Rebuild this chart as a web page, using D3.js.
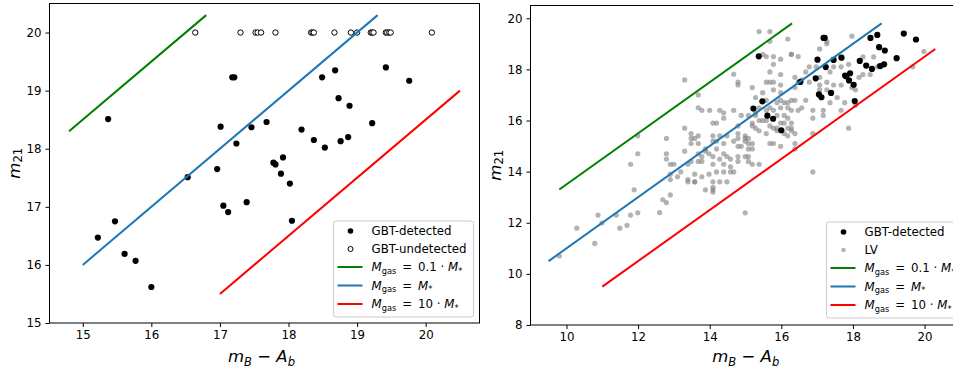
<!DOCTYPE html>
<html>
<head>
<meta charset="utf-8">
<script src="https://cdn.jsdelivr.net/npm/d3@7"></script>
<style>
  body { margin: 0; background: #fff; }
  svg { display: block; font-family: "DejaVu Sans", sans-serif; }
</style>
</head>
<body>
<div id="fig"></div>
<script>
// GBT-detected galaxies (shared by both panels)
const detX = [15.37, 15.22, 15.47, 15.61, 15.77, 16.00, 16.53, 16.96, 17.01, 17.05, 17.12, 17.18, 17.21,
  17.24, 17.39, 17.46, 17.68, 17.78, 17.81, 17.92, 17.89, 18.02, 18.05, 18.19, 18.37, 18.49, 18.53,
  18.68, 18.73, 18.76, 18.87, 18.89, 19.22, 19.42, 19.76];
const detY = [18.51, 16.47, 16.75, 16.19, 16.07, 15.62, 17.51, 17.65, 18.38, 17.02, 16.91, 19.23, 19.23,
  18.09, 17.08, 18.37, 18.46, 17.76, 17.73, 17.85, 17.57, 17.40, 16.76, 18.33, 18.15, 19.23, 18.02,
  19.35, 18.87, 18.13, 18.20, 18.74, 18.44, 19.40, 19.17];

// GBT-undetected (upper limits)
const undetX = [16.64, 17.30, 17.52, 17.55, 17.60, 17.81, 18.33, 18.35, 18.37, 18.67, 18.91, 19.00,
  19.20, 19.22, 19.24, 19.42, 19.44, 19.47, 19.49, 20.09];
const undetY = [20, 20, 20, 20, 20, 20, 20, 20, 20, 20, 20, 20, 20, 20, 20, 20, 20, 20, 20, 20];

// Local Volume sample
const lvX = [9.80, 10.29, 10.79, 10.88, 10.99, 11.39, 11.49, 11.69, 11.79, 11.79, 11.89, 11.99, 11.99, 11.99,
  12.60, 12.69, 12.79, 12.79, 12.79, 12.79, 12.90, 13.00, 12.90, 12.90, 12.90, 13.10, 13.19, 13.30, 13.30, 13.30,
  13.39, 13.39, 13.39, 13.48, 13.48, 13.48, 13.48, 13.58, 13.58, 13.58, 13.58, 13.68, 13.68, 13.68, 13.68, 13.68,
  13.68, 13.78, 13.78, 13.78, 13.78, 13.88, 13.88, 13.88, 13.98, 13.98, 14.09, 14.09, 14.09, 14.09, 14.09, 14.09,
  14.09, 14.09, 14.09, 14.00, 14.19, 14.19, 14.19, 14.19, 14.28, 14.28, 14.28, 14.28, 14.39, 14.39, 14.39, 14.39,
  14.39, 14.39, 14.48, 14.48, 14.48, 14.58, 14.58, 14.58, 14.67, 14.67, 14.67, 14.67, 14.79, 14.79, 14.79, 14.79,
  14.79, 14.79, 14.79, 14.79, 14.88, 14.88, 14.99, 14.99, 14.99, 14.99, 14.99, 15.08, 15.08, 15.08, 15.08, 15.08,
  15.08, 15.19, 15.19, 15.19, 15.19, 15.19, 15.19, 15.28, 15.28, 15.28, 15.28, 15.38, 15.38, 15.38, 15.38, 15.38,
  15.48, 15.48, 15.48, 15.58, 15.58, 15.58, 15.58, 15.58, 15.58, 15.68, 15.68, 15.68, 15.68, 15.68, 15.68, 15.68,
  15.78, 15.78, 15.78, 15.78, 15.78, 15.78, 15.78, 15.88, 15.88, 15.88, 15.88, 15.98, 15.98, 15.98, 15.98, 15.98,
  15.98, 15.98, 15.98, 16.08, 16.08, 16.08, 16.08, 16.18, 16.18, 16.18, 16.18, 16.18, 16.18, 16.28, 16.28, 16.28,
  16.28, 16.28, 16.28, 16.28, 16.38, 16.38, 16.38, 16.38, 16.38, 16.38, 16.47, 16.47, 16.47, 16.57, 16.57, 16.68,
  16.68, 16.78, 16.78, 16.88, 16.88, 16.88, 16.88, 16.97, 17.07, 17.07, 17.07, 17.07, 17.17, 17.17, 17.27, 17.27,
  17.27, 17.27, 17.36, 17.36, 17.36, 17.46, 17.46, 17.56, 17.67, 17.67, 17.67, 17.77, 17.88, 17.88, 17.97, 17.97,
  18.07, 18.07, 18.17, 18.28, 18.28, 18.48, 18.58, 18.68, 19.67, 19.98];
const lvY = [10.70, 11.79, 11.19, 12.30, 11.99, 12.30, 11.79, 11.90, 12.30, 14.29, 13.29, 15.40, 14.70, 12.39,
  12.40, 12.90, 12.79, 15.30, 14.70, 14.49, 14.29, 14.29, 13.90, 13.69, 13.09, 13.80, 13.99, 15.70, 14.80, 17.59,
  13.69, 13.60, 14.29, 15.49, 15.30, 15.10, 14.40, 13.90, 13.60, 13.60, 15.30, 17.00, 16.50, 15.40, 15.10, 14.70,
  14.40, 16.40, 14.59, 14.40, 13.80, 13.29, 14.89, 14.80, 14.70, 13.90, 13.60, 13.39, 13.29, 13.20, 15.40, 15.19,
  14.59, 14.29, 15.90, 16.40, 15.90, 15.19, 14.89, 13.99, 16.40, 15.40, 14.49, 13.60, 16.30, 16.09, 15.10, 14.70,
  14.29, 13.99, 14.59, 13.60, 15.40, 14.49, 14.19, 13.99, 17.81, 16.40, 15.19, 13.99, 17.50, 17.39, 15.49, 14.99,
  14.59, 14.40, 15.79, 15.30, 14.99, 16.20, 15.40, 14.59, 12.39, 15.30, 15.19, 16.20, 15.30, 15.10, 14.59, 14.40,
  14.89, 17.29, 15.90, 15.79, 15.10, 14.89, 14.29, 16.90, 16.30, 16.20, 15.70, 19.48, 16.50, 16.00, 14.29, 15.60,
  18.59, 17.09, 16.00, 18.50, 17.50, 16.79, 16.40, 16.00, 15.49, 19.48, 19.10, 17.90, 17.50, 15.10, 15.79, 16.50,
  18.50, 18.20, 17.50, 17.20, 16.40, 15.70, 15.10, 16.70, 16.20, 15.70, 15.60, 18.40, 17.80, 17.39, 17.09, 16.79,
  16.50, 15.90, 14.99, 16.70, 16.20, 15.90, 15.49, 19.19, 16.70, 16.50, 16.09, 15.70, 15.40, 18.59, 18.59, 16.79,
  16.40, 15.90, 15.70, 15.60, 17.69, 17.29, 16.79, 15.49, 15.10, 14.89, 18.50, 17.50, 16.40, 16.50, 17.59, 17.90,
  16.79, 18.10, 17.50, 16.40, 16.09, 15.49, 13.99, 18.10, 18.80, 17.69, 17.39, 17.20, 16.40, 16.20, 19.10, 19.00,
  17.50, 17.20, 17.90, 17.09, 16.70, 18.10, 17.39, 16.90, 18.10, 16.40, 17.39, 16.70, 15.70, 18.20, 19.30, 17.29,
  17.20, 16.60, 17.69, 18.49, 17.80, 17.80, 18.49, 18.10, 18.10, 18.70];

// gas-to-star ratio lines (end points) for each panel
const leftGreenX = [14.8, 16.8], leftGreenY = [18.3, 20.3];
const leftBlueX = [15.0, 19.3], leftBlueY = [16.0, 20.3];
const leftRedX = [17.0, 20.5], leftRedY = [15.5, 19.0];
const rightGreenX = [9.8, 16.3], rightGreenY = [13.3, 19.8];
const rightBlueX = [9.5, 18.8], rightBlueY = [10.5, 19.8];
const rightRedX = [11.0, 20.3], rightRedY = [9.5, 18.8];

const leftXTicks = [15, 16, 17, 18, 19, 20];
const leftYTicks = [15, 16, 17, 18, 19, 20];
const rightXTicks = [10, 12, 14, 16, 18, 20];
const rightYTicks = [8, 10, 12, 14, 16, 18, 20];

const W = 953, H = 369;
const FS = 11.8;
const GREEN = "#008000", BLUE = "#1f77b4", RED = "#ff0000";

const svg = d3.select("#fig").append("svg")
  .attr("width", W).attr("height", H);

// draw text made of pieces: {t, it (italic), sub}
function richText(g, x, y, parts, size, anchor, shift) {
  const sh = shift === undefined ? 0.22 : shift;
  const txt = g.append("text")
    .attr("x", x).attr("y", y)
    .attr("font-size", size)
    .attr("text-anchor", anchor || "start");
  let wasSub = false;
  parts.forEach(p => {
    const ts = txt.append("tspan").text(p.t);
    if (p.it) ts.attr("font-style", "italic");
    if (p.sub && !wasSub) ts.attr("dy", size * sh);
    if (!p.sub && wasSub) ts.attr("dy", -size * sh);
    if (p.sub) ts.attr("font-size", size * 0.7);
    wasSub = !!p.sub;
  });
  return txt;
}

const labelMass = [
  [{t: "M", it: true}, {t: "gas", sub: true}, {t: "\u2002=\u20020.1 · "}, {t: "M", it: true}, {t: "*", sub: true}],
  [{t: "M", it: true}, {t: "gas", sub: true}, {t: "\u2002=\u2002"}, {t: "M", it: true}, {t: "*", sub: true}],
  [{t: "M", it: true}, {t: "gas", sub: true}, {t: "\u2002=\u200210 · "}, {t: "M", it: true}, {t: "*", sub: true}]
];

function drawPanel(cfg) {
  const g = svg.append("g");
  const x = d3.scaleLinear().domain(cfg.xDom).range([cfg.left, cfg.right]);
  const y = d3.scaleLinear().domain(cfg.yDom).range([cfg.bottom, cfg.top]);

  // points
  cfg.points.forEach(p => p(g, x, y));

  // ratio lines
  const line = d3.line().x(d => x(d[0])).y(d => y(d[1]));
  cfg.lines.forEach(l => {
    g.append("path")
      .datum(d3.zip(l.xs, l.ys))
      .attr("d", line)
      .attr("fill", "none")
      .attr("stroke", l.color)
      .attr("stroke-width", 2);
  });

  // axes
  const ax = g.append("g")
    .attr("transform", `translate(0,${cfg.bottom})`)
    .call(d3.axisBottom(x).tickValues(cfg.xTicks).tickSize(4).tickPadding(4).tickFormat(d3.format("d")));
  const ay = g.append("g")
    .attr("transform", `translate(${cfg.left},0)`)
    .call(d3.axisLeft(y).tickValues(cfg.yTicks).tickSize(4).tickPadding(4).tickFormat(d3.format("d")));
  [ax, ay].forEach(a => {
    a.select(".domain").remove();
    a.selectAll("text").attr("font-size", FS).attr("font-family", "DejaVu Sans").attr("fill", "#000");
    a.selectAll("line").attr("stroke", "#000").attr("stroke-width", 1);
  });

  // frame
  g.append("rect")
    .attr("x", cfg.left).attr("y", cfg.top)
    .attr("width", cfg.right - cfg.left).attr("height", cfg.bottom - cfg.top)
    .attr("fill", "none").attr("stroke", "#000").attr("stroke-width", 1);

  // axis labels
  richText(g, (cfg.left + cfg.right) / 2 - (cfg.xLabelShift || 0), 362,
    [{t: "m", it: true}, {t: "B", it: true, sub: true}, {t: " − "}, {t: "A", it: true}, {t: "b", it: true, sub: true}],
    16.5, "middle");
  const yl = g.append("g")
    .attr("transform", `translate(${cfg.yLabelX},${(cfg.top + cfg.bottom) / 2}) rotate(-90)`);
  richText(yl, 0, 0, [{t: "m", it: true}, {t: "21", sub: true}], 16.5, "middle", 0.13);

  // legend
  const lg = g.append("g").attr("transform", `translate(${cfg.legX},${cfg.legY})`);
  lg.append("rect")
    .attr("width", cfg.legW).attr("height", 96)
    .attr("rx", 2.5)
    .attr("fill", "#fff").attr("fill-opacity", 0.8)
    .attr("stroke", "#cccccc").attr("stroke-width", 1);
  const rowY = [10, 28, 46, 64.5, 83];
  cfg.legendMarkers.forEach((m, i) => {
    m(lg, 17, rowY[i]);
    lg.append("text").attr("x", 38).attr("y", rowY[i] + 4.3)
      .attr("font-size", FS).text(cfg.legendNames[i]);
  });
  [GREEN, BLUE, RED].forEach((c, i) => {
    lg.append("line")
      .attr("x1", 4).attr("x2", 29)
      .attr("y1", rowY[i + 2]).attr("y2", rowY[i + 2])
      .attr("stroke", c).attr("stroke-width", 2);
    richText(lg, 38, rowY[i + 2] + 4.3, labelMass[i], FS);
  });
}

const dotDet = (g, x, y) => g.append("g").selectAll("circle")
  .data(d3.zip(detX, detY)).join("circle")
  .attr("cx", d => x(d[0])).attr("cy", d => y(d[1]))
  .attr("r", 3.1).attr("fill", "#000");

// left panel
drawPanel({
  left: 49.5, right: 479.5, top: 3.5, bottom: 323,
  xDom: [14.515, 20.785], yDom: [15, 20.5],
  xTicks: leftXTicks, yTicks: leftYTicks,
  yLabelX: 20, xLabelShift: 3,
  points: [
    dotDet,
    (g, x, y) => g.append("g").selectAll("circle")
      .data(d3.zip(undetX, undetY)).join("circle")
      .attr("cx", d => x(d[0])).attr("cy", d => y(d[1]))
      .attr("r", 2.7).attr("fill", "#fff").attr("stroke", "#000").attr("stroke-width", 1)
  ],
  lines: [
    {xs: leftGreenX, ys: leftGreenY, color: GREEN},
    {xs: leftBlueX, ys: leftBlueY, color: BLUE},
    {xs: leftRedX, ys: leftRedY, color: RED}
  ],
  legX: 333.5, legY: 221, legW: 140,
  legendNames: ["GBT-detected", "GBT-undetected"],
  legendMarkers: [
    (g, cx, cy) => g.append("circle").attr("cx", cx).attr("cy", cy).attr("r", 2.8).attr("fill", "#000"),
    (g, cx, cy) => g.append("circle").attr("cx", cx).attr("cy", cy).attr("r", 2.5)
      .attr("fill", "#fff").attr("stroke", "#000").attr("stroke-width", 1)
  ]
});

// right panel
drawPanel({
  left: 530.5, right: 955, top: 5.5, bottom: 325,
  xDom: [8.995, 20.85], yDom: [8, 20.5],
  xTicks: rightXTicks, yTicks: rightYTicks,
  yLabelX: 501, xLabelShift: -3,
  points: [
    (g, x, y) => g.append("g").selectAll("circle")
      .data(d3.zip(lvX, lvY)).join("circle")
      .attr("cx", d => x(d[0])).attr("cy", d => y(d[1]))
      .attr("r", 2.6).attr("fill", "#808080").attr("fill-opacity", 0.6),
    dotDet
  ],
  lines: [
    {xs: rightGreenX, ys: rightGreenY, color: GREEN},
    {xs: rightBlueX, ys: rightBlueY, color: BLUE},
    {xs: rightRedX, ys: rightRedY, color: RED}
  ],
  legX: 826.5, legY: 222, legW: 140,
  legendNames: ["GBT-detected", "LV"],
  legendMarkers: [
    (g, cx, cy) => g.append("circle").attr("cx", cx).attr("cy", cy).attr("r", 2.8).attr("fill", "#000"),
    (g, cx, cy) => g.append("circle").attr("cx", cx).attr("cy", cy).attr("r", 2.3)
      .attr("fill", "#808080").attr("fill-opacity", 0.6)
  ]
});
</script>
</body>
</html>
